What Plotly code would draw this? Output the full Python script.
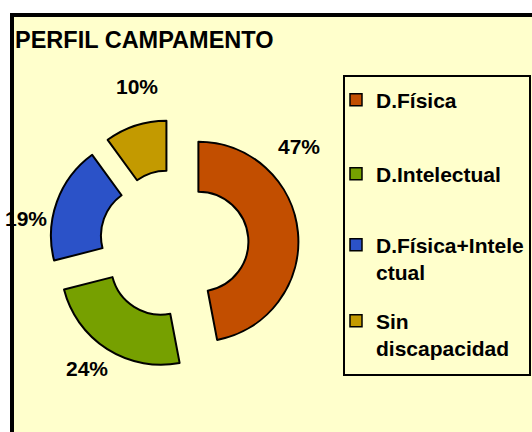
import plotly.graph_objects as go

# ---- data ----
categories = ["D.Física", "D.Intelectual", "D.Física+Intelectual", "Sin discapacidad"]
legend_labels = ["D.Física", "D.Intelectual", "D.Física+Intele<br>ctual", "Sin<br>discapacidad"]
values = [47, 24, 19, 10]

# ---- style ----
colors = ["#C24E00", "#76A000", "#2B52C8", "#C39A00"]
label_px = [(299, 146), (87, 368), (26, 218), (137, 87)]   # label centres (px)
legend_mid_px = [100, 174, 258.5, 334.5]                    # legend entry centres (px)

W, H = 532, 432
FONT = "Liberation Sans, Arial, sans-serif"
BG = "#FFFFCC"

fig = go.Figure()

cx, cy, r0 = 174, 244, 124.5
fig.add_trace(go.Pie(
    labels=categories, values=values, sort=False,
    direction="clockwise", rotation=0, hole=0.5,
    pull=[0.245] * len(values),
    marker=dict(colors=colors, line=dict(color="black", width=2)),
    textinfo="none", hoverinfo="skip", showlegend=False,
    domain=dict(x=[(cx - r0) / W, (cx + r0) / W],
                y=[1 - (cy + r0) / H, 1 - (cy - r0) / H]),
))

legend_names = ["legend", "legend2", "legend3", "legend4"]
for lab, c, lg in zip(legend_labels, colors, legend_names):
    fig.add_trace(go.Scatter(
        x=[None], y=[None], mode="markers", name=lab, legend=lg,
        marker=dict(symbol="square", size=12, color=c,
                    line=dict(color="black", width=1.5)),
    ))

total = sum(values)
annotations = []
for v, (px, py) in zip(values, label_px):
    annotations.append(dict(
        x=px / W, y=1 - py / H, xref="paper", yref="paper",
        text=f"{round(v / total * 100)}%", showarrow=False,
        xanchor="center", yanchor="middle",
        font=dict(family=FONT, size=21, color="black", weight="bold"),
    ))

legend_font = dict(family=FONT, size=21, color="black", weight="bold")
legend_layouts = {}
for lg, ym in zip(legend_names, legend_mid_px):
    legend_layouts[lg] = dict(
        x=336 / W, y=1 - ym / H, xanchor="left", yanchor="middle",
        bgcolor="rgba(0,0,0,0)", borderwidth=0, valign="top",
        font=legend_font,
    )

fig.update_layout(
    width=W, height=H,
    margin=dict(l=0, r=0, t=0, b=0),
    paper_bgcolor="white", plot_bgcolor="rgba(0,0,0,0)",
    xaxis=dict(visible=False), yaxis=dict(visible=False),
    title=dict(text="PERFIL CAMPAMENTO", x=15 / W, xanchor="left",
               y=1 - 40 / H, yanchor="middle", xref="paper", yref="paper",
               font=dict(family=FONT, size=23.5, color="black", weight="bold")),
    shapes=[
        dict(type="rect", xref="paper", yref="paper",
             x0=12 / W, x1=1.2, y0=-0.2, y1=1 - 15 / H,
             fillcolor=BG, line=dict(color="black", width=4), layer="below"),
        dict(type="rect", xref="paper", yref="paper",
             x0=344 / W, x1=530 / W, y0=1 - 375 / H, y1=1 - 76 / H,
             fillcolor=BG, line=dict(color="black", width=2), layer="below"),
    ],
    annotations=annotations,
    showlegend=True,
    **legend_layouts,
)

fig.write_html("out.html", config={"displayModeBar": False},
               post_script="document.body.style.margin='0';")
